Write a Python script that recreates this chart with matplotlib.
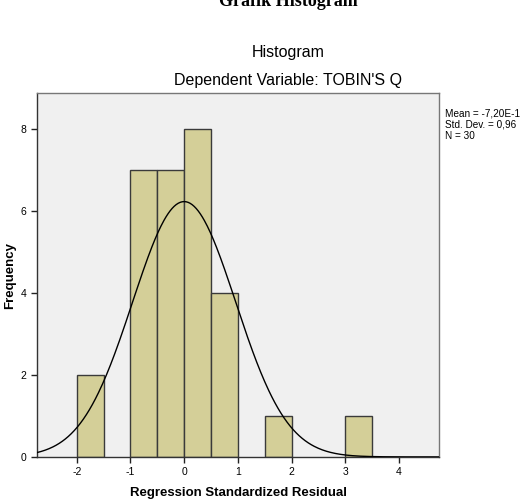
import numpy as np
import matplotlib
matplotlib.use("Agg")
import matplotlib.pyplot as plt

bin_edges_left = [-2.0, -1.0, -0.5, 0.0, 0.5, 1.5, 3.0]
bin_counts = [2, 7, 7, 8, 4, 1, 1]
bin_width = 0.5
mean_val = 0.0
std_val = 0.96
n_obs = 30
x_ticks = [-2, -1, 0, 1, 2, 3, 4]
y_ticks = [0, 2, 4, 6, 8]

plt.rcParams['font.family'] = ['Liberation Sans', 'DejaVu Sans']
plt.rcParams['axes.unicode_minus'] = False

fig = plt.figure(figsize=(5.21, 5.01), dpi=100)
ax = fig.add_axes([0.071, 0.088, 0.772, 0.726])
ax.set_facecolor('#F0F0F0')

ax.bar(bin_edges_left, bin_counts, width=bin_width, align='edge',
       color='#D4CF98', edgecolor='#3a3a3a', linewidth=1.0, zorder=2)

xs = np.linspace(-2.74, 4.75, 400)
ys = n_obs * bin_width / (std_val * np.sqrt(2 * np.pi)) * np.exp(-0.5 * ((xs - mean_val) / std_val) ** 2)
ax.plot(xs, ys, color='black', linewidth=1.0, zorder=3)

ax.set_xlim(-2.74, 4.75)
ax.set_ylim(0, 8.88)
ax.set_xticks(x_ticks)
ax.set_xticklabels([str(t) for t in x_ticks])
ax.set_yticks(y_ticks)
ax.set_yticklabels([str(t) for t in y_ticks])
ax.tick_params(axis='both', labelsize=7.5, length=4, width=1, color='#222222', direction='out')
for s in ['top', 'right']:
    ax.spines[s].set_color('#777777')
for s in ['left', 'bottom']:
    ax.spines[s].set_color('#333333')
for s in ax.spines.values():
    s.set_linewidth(1.0)

fig.text(0.457, 0.016, 'Regression Standardized Residual', ha='center', va='center',
         fontsize=9.5, fontweight='bold')
fig.text(0.020, 0.451, 'Frequency', ha='center', va='center', rotation=90,
         fontsize=9.5, fontweight='bold')

fig.text(0.553, 0.997, 'Grafik Histogram', ha='center', va='center',
         fontsize=13, fontweight='bold', family=['Liberation Serif', 'DejaVu Serif'])
fig.text(0.553, 0.896, 'Histogram', ha='center', va='center', fontsize=11.5)
fig.text(0.553, 0.840, "Dependent Variable: TOBIN'S Q", ha='center', va='center', fontsize=11.5)

fig.text(0.855, 0.783, 'Mean = -7,20E-1\nStd. Dev. = 0,96\nN = 30', ha='left', va='top',
         fontsize=7.2, linespacing=1.12)

fig.savefig('out.png', dpi=100)
